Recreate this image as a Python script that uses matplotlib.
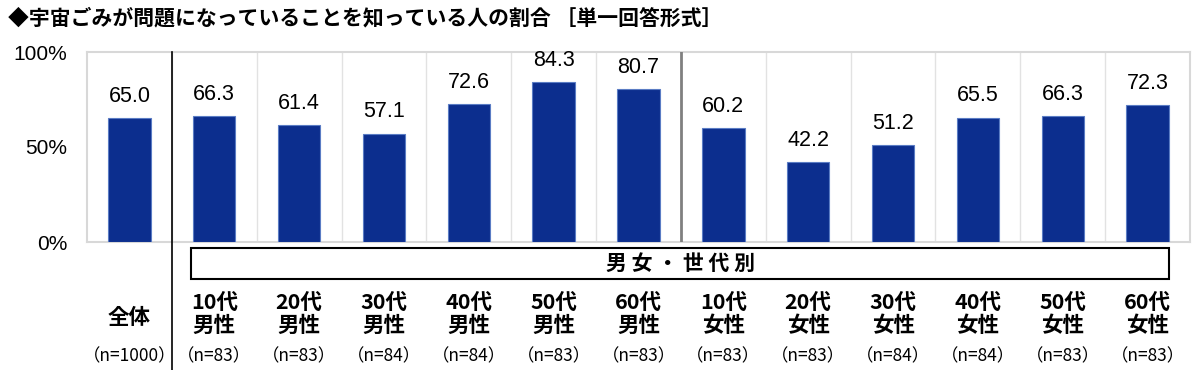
import numpy as np
import matplotlib
matplotlib.use("Agg")
from matplotlib import pyplot as plt
from matplotlib.patches import Rectangle
from matplotlib.transforms import blended_transform_factory

plt.rcParams['font.family'] = ['Noto Sans CJK JP', 'DejaVu Sans']

# データ
title = "◆宇宙ごみが問題になっていることを知っている人の割合 ［単一回答形式］"
ages = ["", "10代", "20代", "30代", "40代", "50代", "60代",
        "10代", "20代", "30代", "40代", "50代", "60代"]
sexes = ["全体", "男性", "男性", "男性", "男性", "男性", "男性",
         "女性", "女性", "女性", "女性", "女性", "女性"]
n_labels = ["(n=1000)", "(n=83)", "(n=83)", "(n=84)", "(n=84)", "(n=83)", "(n=83)",
            "(n=83)", "(n=83)", "(n=84)", "(n=84)", "(n=83)", "(n=83)"]
values = [65.0, 66.3, 61.4, 57.1, 72.6, 84.3, 80.7, 60.2, 42.2, 51.2, 65.5, 66.3, 72.3]
group_label = "男 女 ・ 世 代 別"

bar_color = "#0c2e8e"
x = np.arange(len(values))

fig = plt.figure(figsize=(12, 3.7), dpi=100)
ax = fig.add_axes([87 / 1200, 1 - 242 / 370, 1103 / 1200, 190 / 370])

ax.bar(x, values, width=0.5, color=bar_color, edgecolor="#5a7cc4", linewidth=0.8, zorder=3)

for xi, v in zip(x, values):
    ax.annotate(f"{v:.1f}", (xi, v), xytext=(0, 8), textcoords="offset points",
                ha="center", va="bottom", fontsize=15.5,
                family=["Liberation Sans", "DejaVu Sans"])

ax.set_xlim(-0.5, len(values) - 0.5)
ax.set_ylim(0, 100)
ax.set_yticks([0, 50, 100])
ax.set_yticklabels(["0%", "50%", "100%"], fontsize=15, family=["Liberation Sans", "DejaVu Sans"])
ax.tick_params(axis="y", length=0, pad=14)
ax.set_xticks([])

# 区切り線
for b in np.arange(0.5, len(values) - 0.5):
    ax.axvline(b, color="#e2e2e2", lw=1, zorder=1)
for s in ax.spines.values():
    s.set_color("#d8d8d8")
    s.set_linewidth(1.5)
ax.axvline(6.5, color="#808080", lw=2, zorder=4)

trans = blended_transform_factory(ax.transData, ax.transAxes)
ax.plot([0.5, 0.5], [1, -0.68], color="black", lw=1.2, transform=trans, clip_on=False, zorder=5)

# 男女・世代別の枠
ax.add_patch(Rectangle((0.73, -0.195), 11.52, 0.165, transform=trans, clip_on=False,
                       facecolor="white", edgecolor="black", lw=1.5))
ax.text((0.73 + 12.25) / 2, -0.112, group_label, transform=trans, ha="center", va="center",
        fontsize=15, fontweight="bold")

# カテゴリラベル
for xi, a, s, n in zip(x, ages, sexes, n_labels):
    if a:
        ax.text(xi, -0.316, a, transform=trans, ha="center", va="center", fontsize=15.5, fontweight="bold")
        ax.text(xi, -0.44, s, transform=trans, ha="center", va="center", fontsize=15.5, fontweight="bold")
    else:
        ax.text(xi, -0.395, s, transform=trans, ha="center", va="center", fontsize=15.5, fontweight="bold")
    ax.text(xi, -0.6, n.replace("(", "（").replace(")", "）"), transform=trans,
            ha="center", va="center", fontsize=12.5)

fig.text(8 / 1200, 1 - 18 / 370, title, ha="left", va="center", fontsize=15, fontweight="bold")

fig.savefig("out.png", dpi=100, facecolor="white")
